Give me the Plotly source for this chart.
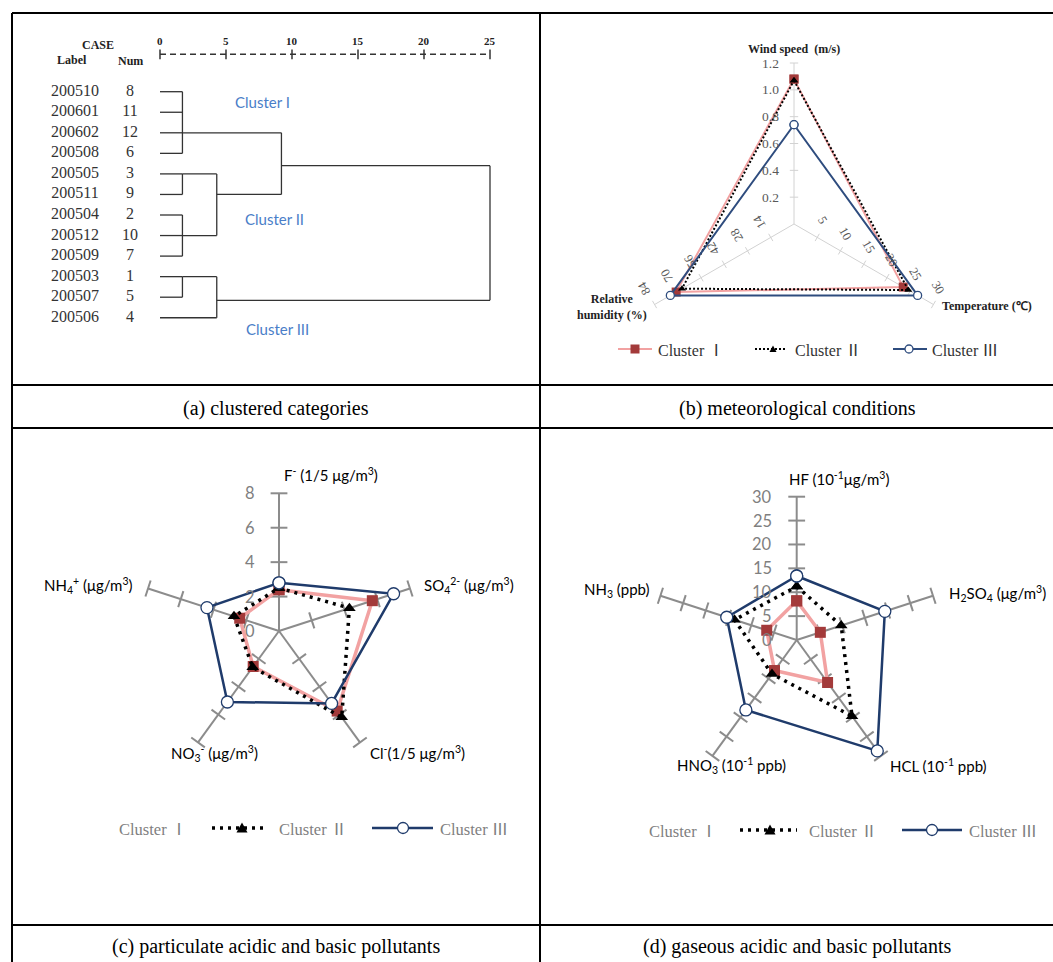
import numpy as np
import plotly.graph_objects as go

W, H = 1053, 962

# ---------------- (a) clustered categories: dendrogram data ----------------
case_labels = ["200510", "200601", "200602", "200508", "200505", "200511",
               "200504", "200512", "200509", "200503", "200507", "200506"]
case_nums = [8, 11, 12, 6, 3, 9, 2, 10, 7, 1, 5, 4]
# merges (children are leaf indices 0..11 or merge nodes 12..)
merge_children = [[0, 1, 2, 3], [4, 5], [6, 7, 8], [13, 14], [12, 15], [9, 10], [17, 11], [16, 18]]
merge_distance = [1.7, 1.7, 1.7, 4.3, 9.2, 1.7, 4.3, 25.0]
merge_row = [2, 4, 7, 5, 3.6, 9, 10.15, 6.9]
distance_ticks = [0, 5, 10, 15, 20, 25]
cluster_names = ["Cluster I", "Cluster II", "Cluster III"]

# ---------------- (b) meteorological conditions ----------------
met_axes = ["Wind speed  (m/s)", "Temperature (℃)", "Relative<br>humidity (%)"]
met_max = [1.2, 30, 84]
met_ticks = [[0.2, 0.4, 0.6, 0.8, 1.0, 1.2], [5, 10, 15, 20, 25, 30], [14, 28, 42, 56, 70, 84]]
met_c1 = [1.08, 23.5, 71.0]
met_c2 = [1.07, 24.6, 67.5]
met_c3 = [0.74, 26.6, 74.5]

# ---------------- (c) particulate pollutants ----------------
part_axes = ["F<sup>-</sup> (1/5 μg/m<sup>3</sup>)", "SO<sub>4</sub><sup>2-</sup> (μg/m<sup>3</sup>)",
             "Cl<sup>-</sup>(1/5 μg/m<sup>3</sup>)", "NO<sub>3</sub><sup>-</sup> (μg/m<sup>3</sup>)",
             "NH<sub>4</sub><sup>+</sup> (μg/m<sup>3</sup>)"]
part_max = 8
part_ticks = [0, 2, 4, 6, 8]
part_c1 = [2.4, 5.7, 5.75, 2.55, 2.4]
part_c2 = [2.5, 4.3, 6.2, 2.6, 2.75]
part_c3 = [2.8, 7.0, 5.2, 5.1, 4.4]

# ---------------- (d) gaseous pollutants ----------------
gas_axes = ["HF (10<sup>-1</sup>μg/m<sup>3</sup>)", "H<sub>2</sub>SO<sub>4</sub> (μg/m<sup>3</sup>)",
            "HCL (10<sup>-1</sup> ppb)", "HNO<sub>3</sub> (10<sup>-1</sup> ppb)", "NH<sub>3</sub> (ppb)"]
gas_max = 30
gas_ticks = [0, 5, 10, 15, 20, 25, 30]
gas_c1 = [8.2, 5.2, 11.0, 7.9, 6.6]
gas_c2 = [11.2, 9.8, 19.7, 8.8, 13.7]
gas_c3 = [13.4, 19.4, 28.7, 18.1, 15.4]

legend_names = ["Cluster", "Cluster", "Cluster"]
legend_numerals = ["Ⅰ", "Ⅱ", "Ⅲ"]
captions = ["(a) clustered categories", "(b) meteorological conditions",
            "(c) particulate acidic and basic pollutants", "(d) gaseous acidic and basic pollutants"]

SERIF = "Liberation Serif, Times New Roman, serif"
SANS = "Lato, Open Sans, sans-serif"
CJK = "Noto Sans CJK JP"
PINK, DRED, NAVY_B, NAVY = "#F2A2A2", "#A33A3A", "#2E4C7E", "#1F3B6B"


def px(x):
    return x / W


def py(y):
    return 1 - y / H


fig = go.Figure()
annotations = []
shapes = []


def ann(text, x, y, size, color="#000", family=SERIF, xanchor="center", yanchor="middle",
        xref="paper", yref="paper", textangle=0, xshift=0, yshift=0, align="center"):
    if xref == "paper":
        x = px(x)
    if yref == "paper":
        y = py(y)
    annotations.append(dict(text=text, x=x, y=y, xref=xref, yref=yref, showarrow=False,
                            xanchor=xanchor, yanchor=yanchor, textangle=textangle,
                            xshift=xshift, yshift=yshift, align=align,
                            font=dict(size=size, color=color, family=family)))


def legend_text(i):
    return "%s <span style='font-family:%s'>%s</span>" % (legend_names[i], CJK, legend_numerals[i])


# ---------------- table frame ----------------
def hline(y, x0=12, x1=W):
    shapes.append(dict(type="line", xref="paper", yref="paper", x0=px(x0), x1=px(x1), y0=py(y), y1=py(y),
                       line=dict(color="#000", width=2)))


def vline(x, y0=13, y1=H):
    shapes.append(dict(type="line", xref="paper", yref="paper", x0=px(x), x1=px(x), y0=py(y0), y1=py(y1),
                       line=dict(color="#000", width=2)))


hline(13)
hline(385)
hline(428)
hline(925)
vline(12)
vline(540)

ann(captions[0], 276, 408, 20)
ann(captions[1], 797, 408, 20)
ann(captions[2], 276, 946, 20)
ann(captions[3], 797, 946, 20)

# ---------------- (a) dendrogram ----------------
X0PX, PXU = 160.0, 13.2       # pixel of distance 0, pixels per unit
Y0PX, PXR = 91.7, 20.55       # pixel of row 0, pixels per row
n_leaf = len(case_labels)
node_row = list(range(n_leaf)) + merge_row
node_h = [0.0] * n_leaf + merge_distance
seg_x, seg_y = [], []
for m, kids in enumerate(merge_children):
    d = merge_distance[m]
    rows = [node_row[k] for k in kids]
    for k in kids:
        seg_x += [node_h[k], d, None]
        seg_y += [node_row[k], node_row[k], None]
    seg_x += [d, d, None]
    seg_y += [min(rows), max(rows), None]
fig.add_trace(go.Scatter(x=seg_x, y=seg_y, mode="lines", line=dict(color="#333", width=1.3),
                         xaxis="x", yaxis="y", hoverinfo="skip", showlegend=False))

rows = list(range(n_leaf))
fig.add_trace(go.Scatter(x=[(75 - X0PX) / PXU] * n_leaf, y=rows, mode="text", text=case_labels,
                         textposition="middle center",
                         textfont=dict(family=SERIF, size=16, color="#333"),
                         xaxis="x", yaxis="y", hoverinfo="skip", showlegend=False))
fig.add_trace(go.Scatter(x=[(130 - X0PX) / PXU] * n_leaf, y=rows, mode="text", text=[str(v) for v in case_nums],
                         textposition="middle center",
                         textfont=dict(family=SERIF, size=16, color="#333"),
                         xaxis="x", yaxis="y", hoverinfo="skip", showlegend=False))

axis_row = (54.3 - Y0PX) / PXR
fig.add_trace(go.Scatter(x=[distance_ticks[0], distance_ticks[-1]], y=[axis_row, axis_row], mode="lines",
                         line=dict(color="#333", width=1.5, dash="6px,4px"),
                         xaxis="x", yaxis="y", hoverinfo="skip", showlegend=False))
fig.add_trace(go.Scatter(x=distance_ticks, y=[axis_row] * len(distance_ticks), mode="markers",
                         marker=dict(symbol="line-ns", size=7, line=dict(color="#333", width=1.5)),
                         xaxis="x", yaxis="y", hoverinfo="skip", showlegend=False))
for t in distance_ticks:
    ann("<b>%d</b>" % t, t, (41 - Y0PX) / PXR, 11, "#222", xref="x", yref="y")
ann("<b>CASE</b>", (98 - X0PX) / PXU, (45 - Y0PX) / PXR, 12, "#222", xref="x", yref="y")
ann("<b>Label</b>", (72 - X0PX) / PXU, (60 - Y0PX) / PXR, 12, "#222", xref="x", yref="y")
ann("<b>Num</b>", (130 - X0PX) / PXU, (61 - Y0PX) / PXR, 12, "#222", xref="x", yref="y")
for name, (cx, cy) in zip(cluster_names, [(262, 102), (274, 219), (277, 329)]):
    ann(name, (cx - X0PX) / PXU, (cy - Y0PX) / PXR, 15, "#4A7EC8", family=SANS, xref="x", yref="y")


# ---------------- radar helpers ----------------
def spoke_angles(n):
    return np.arange(n) * 2 * np.pi / n


def radar_xy(vals, maxes):
    n = len(vals)
    th = spoke_angles(n)
    f = np.asarray(vals, float) / np.asarray(maxes, float)
    x, y = f * np.sin(th), f * np.cos(th)
    return np.append(x, x[0]), np.append(y, y[0])


def add_spokes(n, ax, color, width, ticks_per_axis, maxes, tick_size, tick_w):
    th = spoke_angles(n)
    sx, sy = [], []
    for t in th:
        sx += [0, np.sin(t), None]
        sy += [0, np.cos(t), None]
    fig.add_trace(go.Scatter(x=sx, y=sy, mode="lines", line=dict(color=color, width=width),
                             xaxis="x" + ax, yaxis="y" + ax, hoverinfo="skip", showlegend=False))
    tx, ty, ta = [], [], []
    for k, t in enumerate(th):
        for v in ticks_per_axis[k]:
            if v <= 0:
                continue
            f = v / maxes[k]
            tx.append(f * np.sin(t))
            ty.append(f * np.cos(t))
            ta.append(float(np.degrees(t)))
    fig.add_trace(go.Scatter(x=tx, y=ty, mode="markers",
                             marker=dict(symbol="line-ew", size=tick_size, angle=ta,
                                         line=dict(color=color, width=tick_w)),
                             xaxis="x" + ax, yaxis="y" + ax, hoverinfo="skip", showlegend=False))


def add_series(vals, maxes, ax, style):
    x, y = radar_xy(vals, maxes)
    fig.add_trace(go.Scatter(x=x, y=y, mode="lines+markers", xaxis="x" + ax, yaxis="y" + ax,
                             hoverinfo="skip", showlegend=False, **style))


def style_c1(lw, ms):
    return dict(line=dict(color=PINK, width=lw),
                marker=dict(symbol="square", size=ms, color=DRED, line=dict(width=0)))


def style_c2(lw, ms, dash):
    return dict(line=dict(color="#000", width=lw, dash=dash),
                marker=dict(symbol="triangle-up", size=ms, color="#000", line=dict(width=0)))


def style_c3(lw, ms, col):
    return dict(line=dict(color=col, width=lw),
                marker=dict(symbol="circle", size=ms, color="#fff", line=dict(color=col, width=1.3)))


axes_layout = {}


def radar_axes(ax, cx, cy, R, x0, x1, y0, y1):
    axes_layout["xaxis" + ax] = dict(domain=[px(x0), px(x1)], range=[(x0 - cx) / R, (x1 - cx) / R],
                                     visible=False, fixedrange=True, anchor="y" + ax)
    axes_layout["yaxis" + ax] = dict(domain=[py(y1), py(y0)], range=[(cy - y1) / R, (cy - y0) / R],
                                     visible=False, fixedrange=True, anchor="x" + ax)


# ---------------- (b) ----------------
Rb = 161.0
radar_axes("2", 794, 224, Rb, 541, W, 14, 384)
add_spokes(3, "2", "#D2D2D2", 1, met_ticks, met_max, 6, 1)
add_series(met_c1, met_max, "2", style_c1(2, 9))
add_series(met_c2, met_max, "2", style_c2(2, 7, "2px,2px"))
add_series(met_c3, met_max, "2", style_c3(2, 8, NAVY_B))
for v in met_ticks[0]:
    ann("%.1f" % v, 0, v / met_max[0], 13.5, "#595959", xref="x2", yref="y2", xanchor="right", xshift=-13)
thb = spoke_angles(3)
for v in met_ticks[1]:
    f = v / met_max[1]
    ann(str(v), f * np.sin(thb[1]), f * np.cos(thb[1]), 12.5, "#595959", xref="x2", yref="y2",
        textangle=60, xshift=5, yshift=17)
for v in met_ticks[2]:
    f = v / met_max[2]
    ann(str(v), f * np.sin(thb[2]), f * np.cos(thb[2]), 12.5, "#595959", xref="x2", yref="y2",
        textangle=-120, xshift=-11, yshift=16)
ann("<b>%s</b>" % met_axes[0], 794, 49, 12, "#222")
ann("<b>%s</b>" % met_axes[1], 987, 306, 12, "#222")
ann("<b>%s</b>" % met_axes[2], 612, 307, 12, "#222")


# ---------------- legends (drawn as layout decorations) ----------------
def leg_line(x0, x1, y, color, width, dash=None):
    shapes.append(dict(type="line", xref="paper", yref="paper", x0=px(x0), x1=px(x1), y0=py(y), y1=py(y),
                       line=dict(color=color, width=width, dash=dash or "solid")))


def leg_square(cx, cy, s, color):
    shapes.append(dict(type="rect", xref="paper", yref="paper", x0=px(cx - s / 2), x1=px(cx + s / 2),
                       y0=py(cy + s / 2), y1=py(cy - s / 2), fillcolor=color, line=dict(width=0)))


def leg_tri(cx, cy, s, color):
    path = "M %f,%f L %f,%f L %f,%f Z" % (px(cx - s / 2), py(cy + s * 0.42), px(cx + s / 2), py(cy + s * 0.42),
                                          px(cx), py(cy - s * 0.5))
    shapes.append(dict(type="path", xref="paper", yref="paper", path=path, fillcolor=color, line=dict(width=0)))


def leg_circle(cx, cy, s, color):
    shapes.append(dict(type="circle", xref="paper", yref="paper", x0=px(cx - s / 2), x1=px(cx + s / 2),
                       y0=py(cy + s / 2), y1=py(cy - s / 2), fillcolor="#fff", line=dict(color=color, width=1.3)))


# legend (b)
yl = 349
leg_line(618, 652, yl, PINK, 2)
leg_square(635, yl, 9, DRED)
ann(legend_text(0), 656, yl, 16, "#333", xanchor="left")
leg_line(755, 787, yl, "#000", 2, "2px,2px")
leg_tri(773, yl, 7, "#000")
ann(legend_text(1), 793, yl, 16, "#333", xanchor="left")
leg_line(893, 927, yl, NAVY_B, 2)
leg_circle(909, yl, 8, NAVY_B)
ann(legend_text(2), 930, yl, 16, "#333", xanchor="left")

# ---------------- (c) ----------------
Rc = 137.7
radar_axes("3", 279, 631, Rc, 13, 539, 429, 924)
add_spokes(5, "3", "#8C8C8C", 2, [part_ticks] * 5, [part_max] * 5, 12, 2)
for v in part_ticks:
    ann(str(v), 0, v / part_max, 16.5, "#7F7F7F", family=SANS, xref="x3", yref="y3", xanchor="right", xshift=-22)
add_series(part_c1, [part_max] * 5, "3", style_c1(3.5, 11))
add_series(part_c2, [part_max] * 5, "3", style_c2(3.5, 11, "3px,5px"))
add_series(part_c3, [part_max] * 5, "3", style_c3(2.5, 12, NAVY))
ann(part_axes[0], 282, 475, 15, "#000", family=SANS, xanchor="left")
ann(part_axes[1], 422, 585, 15, "#000", family=SANS, xanchor="left")
ann(part_axes[2], 368, 752, 15, "#000", family=SANS, xanchor="left")
ann(part_axes[3], 260, 753, 15, "#000", family=SANS, xanchor="right")
ann(part_axes[4], 135, 585, 15, "#000", family=SANS, xanchor="right")

# ---------------- (d) ----------------
Rd = 143.3
radar_axes("4", 796.7, 640, Rd, 541, W, 429, 924)
add_spokes(5, "4", "#8C8C8C", 2, [gas_ticks] * 5, [gas_max] * 5, 12, 2)
for v in gas_ticks:
    ann(str(v), 0, v / gas_max, 16.5, "#7F7F7F", family=SANS, xref="x4", yref="y4", xanchor="right", xshift=-23)
add_series(gas_c1, [gas_max] * 5, "4", style_c1(3.5, 11))
add_series(gas_c2, [gas_max] * 5, "4", style_c2(3.5, 11, "3px,5px"))
add_series(gas_c3, [gas_max] * 5, "4", style_c3(2.5, 12, NAVY))
ann(gas_axes[0], 787, 478, 15, "#000", family=SANS, xanchor="left")
ann(gas_axes[1], 947, 593, 15, "#000", family=SANS, xanchor="left")
ann(gas_axes[2], 888, 765, 15, "#000", family=SANS, xanchor="left")
ann(gas_axes[3], 788, 765, 15, "#000", family=SANS, xanchor="right")
ann(gas_axes[4], 652, 590, 15, "#000", family=SANS, xanchor="right")

# legends (c) and (d)
for (yl, t1, d0, d1, tri, t2, n0, n1, circ, t3) in [
        (828, 117, 212, 268, 242, 277, 372, 433, 403, 438),
        (830, 647, 740, 797, 770, 807, 902, 962, 932, 967)]:
    ann(legend_text(0), t1, yl, 16.5, "#7F7F7F", xanchor="left")
    leg_line(d0, d1, yl, "#000", 3.5, "3px,5px")
    leg_tri(tri, yl, 11, "#000")
    ann(legend_text(1), t2, yl, 16.5, "#7F7F7F", xanchor="left")
    leg_line(n0, n1, yl, NAVY, 2.5)
    leg_circle(circ, yl, 11, NAVY)
    ann(legend_text(2), t3, yl, 16.5, "#7F7F7F", xanchor="left")

# ---------------- layout ----------------
fig.update_layout(
    width=W, height=H, autosize=False,
    margin=dict(l=0, r=0, t=0, b=0, pad=0),
    paper_bgcolor="#fff", plot_bgcolor="rgba(0,0,0,0)",
    showlegend=False,
    xaxis=dict(domain=[px(13), px(539)], range=[(13 - X0PX) / PXU, (539 - X0PX) / PXU],
               visible=False, fixedrange=True, anchor="y"),
    yaxis=dict(domain=[py(384), py(14)], range=[(384 - Y0PX) / PXR, (14 - Y0PX) / PXR],
               visible=False, fixedrange=True, anchor="x"),
    annotations=annotations, shapes=shapes,
    **axes_layout,
)

fig.write_html("out.html")
